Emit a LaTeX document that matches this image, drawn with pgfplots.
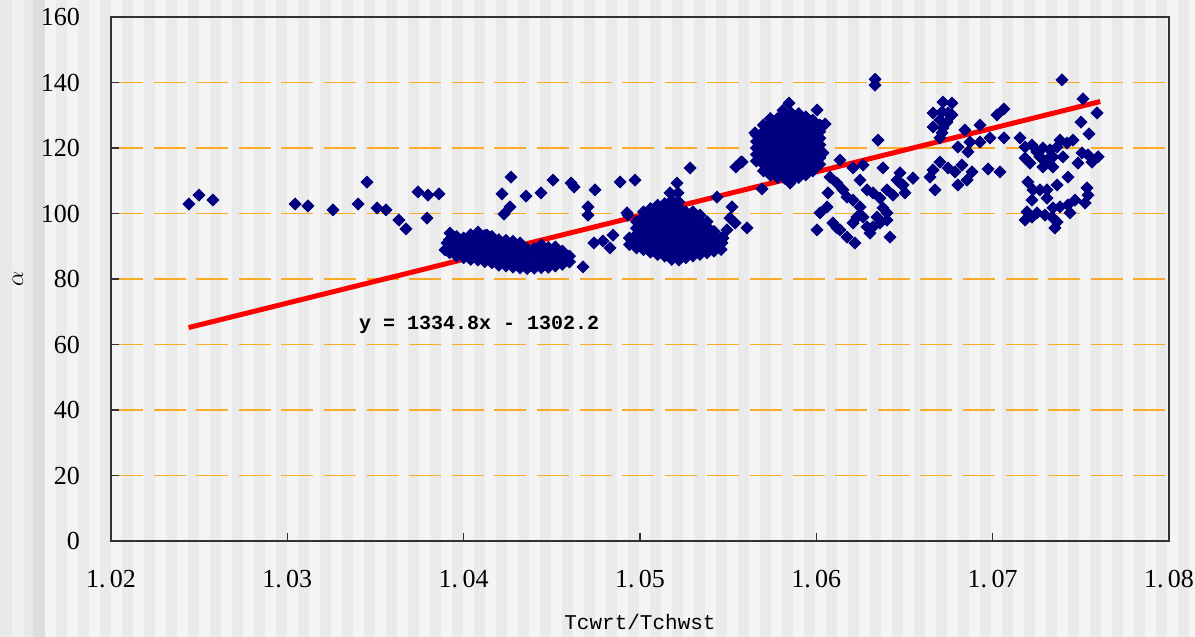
\documentclass[border=0pt]{standalone}
\usepackage{pgfplots}
\pgfplotsset{compat=1.18}
\usepackage{fontspec}
\setmainfont{Liberation Serif}
\newfontfamily\monofont{Liberation Mono}
\definecolor{navy}{RGB}{0,0,128}
\definecolor{gridorange}{RGB}{250,172,40}
\definecolor{bglight}{RGB}{244,244,244}
\definecolor{bgdark}{RGB}{234,234,234}
\definecolor{frame}{RGB}{50,50,50}
\begin{document}
\begin{tikzpicture}
\fill[bglight] (0,0) rectangle (597.5pt,318.5pt);
\fill[black!9] (0,0) rectangle (6pt,318.5pt);
\fill[black!6] (6pt,0) rectangle (12pt,318.5pt);
\fill[black!9] (12pt,0) rectangle (16.5pt,318.5pt);
\fill[black!13] (16.5pt,0) rectangle (22.5pt,318.5pt);
\foreach \i in {0,...,51} {\fill[bgdark] ({28pt+11pt*\i},0) rectangle ({33.5pt+11pt*\i},318.5pt);}
\begin{axis}[
  at={(55.5pt,48pt)}, anchor=south west,
  scale only axis, width=529pt, height=262pt,
  xmin=1.02, xmax=1.08, ymin=0, ymax=160,
  xtick={1.02,1.03,1.04,1.05,1.06,1.07,1.08},
  xticklabels={1.\,02,1.\,03,1.\,04,1.\,05,1.\,06,1.\,07,1.\,08},
  ytick={0,20,40,60,80,100,120,140,160},
  yticklabels={0,20,40,60,80,100,120,140,160},
  tick pos=left, tick align=inside, major tick length=4pt,
  tick style={frame, line width=0.6pt},
  axis line style={frame, line width=0.7pt},
  ymajorgrids,
  major grid style={gridorange, line width=0.75pt, dash pattern=on 16pt off 5.3pt},
  ticklabel style={font=\fontsize{13}{15}\selectfont},
  xticklabel style={anchor=north, yshift=-11pt},
  yticklabel style={anchor=east, xshift=-12pt},
  xlabel={\monofont Tcwrt/Tchwst},
  xlabel style={at={(axis description cs:0.5,0)}, anchor=center, yshift=-40.5pt, font=\fontsize{10.5}{12}\selectfont},
  ylabel={$\alpha$},
  ylabel style={at={(axis description cs:0,0.5)}, anchor=center, yshift=46.5pt, font=\fontsize{13}{15}\selectfont},
  clip=false,
]
\addplot[only marks, mark=square*, mark size=2.1pt, mark options={rotate=45, fill=navy, draw=navy}] table {
x y
1.02442 102.9
1.02499 105.6
1.02578 104.1
1.03044 102.9
1.03117 102.3
1.03259 101.1
1.03401 102.9
1.03452 109.6
1.03509 101.7
1.03560 101.1
1.03633 98.0
1.03673 95.3
1.03741 106.6
1.03798 105.6
1.03860 106.0
1.03792 98.6
1.04217 106.0
1.04268 111.1
1.04354 105.3
1.04439 106.3
1.04507 110.2
1.04609 109.3
1.04626 108.1
1.04745 107.2
1.04705 102.0
1.04705 99.5
1.04677 83.7
1.04739 91.0
1.04790 91.6
1.04830 89.5
1.04847 93.4
1.04887 109.6
1.04972 110.2
1.04932 99.5
1.05210 109.3
1.05216 106.3
1.05522 102.0
1.05607 95.6
1.05692 107.5
1.05544 114.2
1.05573 115.7
1.05284 113.9
1.05170 106.3
1.05437 105.0
1.05510 98.6
1.05539 97.1
1.05493 95.0
1.05471 92.5
1.05465 91.0
1.04926 100.2
1.04263 102.0
1.04229 99.8
1.0392 88
1.0392 90
1.0392 92
1.0396 87
1.0396 89
1.0396 91
1.0396 93
1.0400 86.5
1.0400 88.5
1.0400 90.5
1.0400 92.5
1.0404 86
1.0404 88
1.0404 90
1.0404 92
1.0404 93.5
1.0408 85.8
1.0408 87.8
1.0408 89.8
1.0408 91.8
1.0408 93.8
1.0412 85.3
1.0412 87.3
1.0412 89.3
1.0412 91.3
1.0412 93.3
1.0416 85
1.0416 87
1.0416 89
1.0416 91
1.0416 93
1.0420 84.2
1.0420 86.2
1.0420 88.2
1.0420 90.2
1.0420 92
1.0424 84
1.0424 86
1.0424 88
1.0424 90
1.0424 91.8
1.0428 83.6
1.0428 85.6
1.0428 87.6
1.0428 89.6
1.0428 91.5
1.0432 83.4
1.0432 85.4
1.0432 87.4
1.0432 89.4
1.0432 91
1.0436 83.2
1.0436 85.2
1.0436 87.2
1.0436 89.2
1.0440 83.3
1.0440 85.3
1.0440 87.3
1.0440 89.3
1.0444 83.5
1.0444 85.5
1.0444 87.5
1.0444 89.5
1.0444 90.4
1.0448 83.6
1.0448 85.6
1.0448 87.6
1.0448 89.6
1.0452 84
1.0452 86
1.0452 88
1.0452 89.8
1.0456 84.5
1.0456 86.5
1.0456 88.5
1.0460 85.2
1.0460 87
1.03894 88.9
1.03906 91
1.03923 94
1.04081 94.3
1.04132 93.4
1.04586 86.7
1.0494 90.5
1.0494 92.5
1.0498 89.5
1.0498 91.5
1.0498 93.5
1.0498 95.5
1.0498 97.5
1.0502 89
1.0502 91
1.0502 93
1.0502 95
1.0502 97
1.0502 99
1.0502 100.5
1.0506 88.2
1.0506 90.2
1.0506 92.2
1.0506 94.2
1.0506 96.2
1.0506 98.2
1.0506 100.2
1.0506 101.5
1.0510 87.5
1.0510 89.5
1.0510 91.5
1.0510 93.5
1.0510 95.5
1.0510 97.5
1.0510 99.5
1.0510 101.5
1.0510 102.5
1.0514 87
1.0514 89
1.0514 91
1.0514 93
1.0514 95
1.0514 97
1.0514 99
1.0514 101
1.0514 103
1.0518 86
1.0518 88
1.0518 90
1.0518 92
1.0518 94
1.0518 96
1.0518 98
1.0518 100
1.0518 102
1.0518 104
1.0522 85.8
1.0522 87.8
1.0522 89.8
1.0522 91.8
1.0522 93.8
1.0522 95.8
1.0522 97.8
1.0522 99.8
1.0522 101.8
1.0522 103.5
1.0526 86.5
1.0526 88.5
1.0526 90.5
1.0526 92.5
1.0526 94.5
1.0526 96.5
1.0526 98.5
1.0526 100.5
1.0530 87
1.0530 89
1.0530 91
1.0530 93
1.0530 95
1.0530 97
1.0530 99
1.0530 100.5
1.0534 87.5
1.0534 89.5
1.0534 91.5
1.0534 93.5
1.0534 95.5
1.0534 97.5
1.0534 99.5
1.0538 88
1.0538 90
1.0538 92
1.0538 94
1.0538 96
1.0538 97.5
1.0542 88.5
1.0542 90.5
1.0542 92.5
1.0542 94.5
1.0546 89
1.0546 91
1.0546 92.5
1.0566 116
1.0566 118
1.0566 120
1.0566 122
1.0566 124
1.0570 113
1.0570 115
1.0570 117
1.0570 119
1.0570 121
1.0570 123
1.0570 125
1.0570 127
1.0574 111.7
1.0574 113.7
1.0574 115.7
1.0574 117.7
1.0574 119.7
1.0574 121.7
1.0574 123.7
1.0574 125.7
1.0574 127.7
1.0574 129
1.0578 111
1.0578 113
1.0578 115
1.0578 117
1.0578 119
1.0578 121
1.0578 123
1.0578 125
1.0578 127
1.0578 129
1.0582 110.8
1.0582 112.8
1.0582 114.8
1.0582 116.8
1.0582 118.8
1.0582 120.8
1.0582 122.8
1.0582 124.8
1.0582 126.8
1.0582 128.8
1.0582 130.5
1.0586 110.5
1.0586 112.5
1.0586 114.5
1.0586 116.5
1.0586 118.5
1.0586 120.5
1.0586 122.5
1.0586 124.5
1.0586 126.5
1.0586 128.5
1.0586 130.5
1.0590 111
1.0590 113
1.0590 115
1.0590 117
1.0590 119
1.0590 121
1.0590 123
1.0590 125
1.0590 127
1.0590 129
1.0590 130.5
1.0594 111.8
1.0594 113.8
1.0594 115.8
1.0594 117.8
1.0594 119.8
1.0594 121.8
1.0594 123.8
1.0594 125.8
1.0594 127.8
1.0594 129.5
1.0598 113
1.0598 115
1.0598 117
1.0598 119
1.0598 121
1.0598 123
1.0598 125
1.0598 127
1.0598 128.5
1.0602 115
1.0602 117
1.0602 119
1.0602 121
1.0602 123
1.0602 125
1.0602 127
1.05652 124.6
1.05845 133.7
1.05811 131.5
1.06004 131.6
1.06050 127.3
1.06038 118.5
1.05981 114.2
1.05851 109.3
1.05579 115.7
1.06134 116.3
1.06208 113.9
1.06265 114.8
1.06350 122.4
1.06333 139.2
1.06333 141.0
1.06378 113.9
1.06475 112.4
1.06548 110.8
1.06492 108.7
1.06078 111.1
1.06117 109.3
1.06066 106.3
1.06061 102.0
1.06021 100.2
1.06151 107.2
1.06174 105.0
1.06248 110.2
1.06287 107.2
1.06321 106.3
1.06401 107.2
1.06435 105.6
1.06458 110.2
1.06361 104.7
1.06208 104.1
1.06248 102.0
1.06378 101.7
1.06401 100.2
1.06344 98.9
1.06265 98.9
1.06231 98.9
1.06208 97.1
1.06094 97.1
1.06117 95.6
1.06134 95.0
1.06287 95.9
1.06321 95.9
1.06361 97.1
1.06304 94.0
1.06174 92.8
1.06219 91.0
1.06401 98.0
1.06418 92.8
1.06004 95.0
1.06718 134.0
1.06769 133.7
1.06662 130.7
1.06713 131.0
1.06747 130.7
1.06769 130.1
1.06701 128.5
1.06741 127.9
1.06662 126.4
1.06718 126.1
1.06713 124.6
1.06701 123.1
1.06843 125.5
1.06928 127.0
1.07025 130.1
1.07064 131.9
1.06803 120.3
1.06871 121.8
1.06928 121.8
1.06860 118.8
1.06985 123.1
1.07064 123.1
1.06701 115.7
1.06662 113.3
1.06747 113.9
1.06826 114.8
1.06786 112.7
1.06645 111.1
1.06673 107.2
1.06883 112.7
1.06855 110.2
1.06803 108.7
1.06974 113.6
1.07042 112.7
1.06548 110.8
1.06486 108.7
1.06503 106.3
1.07155 123.1
1.07184 120.3
1.07223 120.9
1.07251 118.8
1.07285 120.0
1.07325 119.4
1.07365 120.3
1.07382 122.4
1.07422 121.5
1.07456 122.4
1.07342 117.3
1.07308 116.3
1.07268 117.3
1.07184 116.9
1.07212 115.4
1.07285 114.2
1.07342 114.2
1.07399 117.3
1.07507 118.5
1.07541 117.9
1.07598 117.3
1.07484 115.4
1.07563 115.7
1.07427 111.1
1.07200 109.6
1.07229 107.2
1.07268 107.2
1.07308 107.2
1.07365 108.7
1.07308 104.7
1.07223 104.1
1.07535 107.8
1.07541 105.6
1.07524 103.2
1.07467 104.1
1.07427 102.6
1.07439 100.2
1.07195 100.5
1.07223 98.9
1.07251 100.2
1.07184 98.0
1.07297 99.5
1.07342 101.7
1.07382 102.0
1.07336 98.9
1.07365 97.4
1.07353 95.6
1.07512 135.0
1.07501 127.9
1.07592 130.7
1.07546 124.3
1.07393 140.8
};
\addplot[red, line width=2.5pt] coordinates {(1.0244,65.17) (1.0761,134.18)};
\node[anchor=west, font=\monofont\bfseries\fontsize{10}{12}\selectfont] at (axis cs:1.03367,66) {y = 1334.8x - 1302.2};
\end{axis}
\pgfresetboundingbox
\path[use as bounding box] (0,0) rectangle (597.5pt,318.5pt);
\end{tikzpicture}
\end{document}
